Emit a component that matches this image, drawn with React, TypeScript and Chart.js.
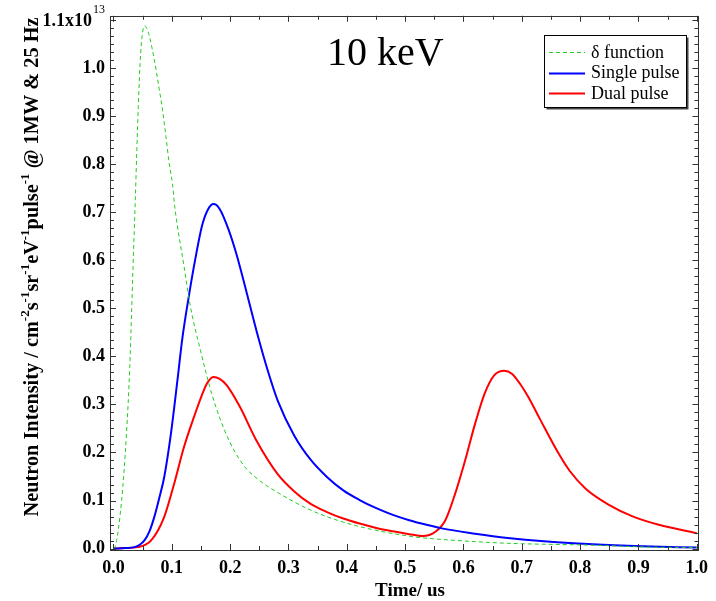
import React, { useEffect, useRef } from "react";
import { Chart, registerables } from "chart.js";

Chart.register(...registerables);

// ---- data (time in us, intensity in units of 1e13) ----
const deltaT = [0, 0.0025, 0.0139, 0.0223, 0.0279, 0.0335, 0.0375, 0.040, 0.0425, 0.0465, 0.050, 0.053, 0.057, 0.0617, 0.070, 0.0786, 0.084, 0.090, 0.0955, 0.101, 0.105, 0.121, 0.132, 0.149, 0.169, 0.194, 0.222, 0.25, 0.281, 0.338, 0.394, 0.45, 0.518, 0.586, 0.676, 0.822, 0.918, 1.0];
const deltaV = [0, 0.003, 0.10, 0.24, 0.378, 0.587, 0.73, 0.83, 0.92, 1.03, 1.075, 1.088, 1.083, 1.066, 1.017, 0.955, 0.913, 0.857, 0.802, 0.760, 0.712, 0.587, 0.503, 0.413, 0.320, 0.236, 0.175, 0.142, 0.117, 0.080, 0.055, 0.038, 0.024, 0.017, 0.011, 0.007, 0.003, 0.002];

const singleT = [0, 0.02, 0.036, 0.045, 0.053, 0.062, 0.070, 0.078, 0.087, 0.098, 0.1096, 0.118, 0.129, 0.1406, 0.152, 0.162, 0.1716, 0.182, 0.197, 0.211, 0.231, 0.2477, 0.2646, 0.2815, 0.31, 0.338, 0.366, 0.394, 0.422, 0.4506, 0.479, 0.507, 0.535, 0.563, 0.62, 0.676, 0.738, 0.822, 0.907, 1.0];
const singleV = [0, 0.001, 0.003, 0.008, 0.017, 0.037, 0.066, 0.103, 0.149, 0.235, 0.350, 0.437, 0.524, 0.605, 0.673, 0.706, 0.717, 0.707, 0.665, 0.612, 0.520, 0.442, 0.370, 0.308, 0.235, 0.185, 0.149, 0.121, 0.101, 0.084, 0.070, 0.059, 0.050, 0.042, 0.031, 0.022, 0.015, 0.009, 0.005, 0.002];

const dualT = [0, 0.02, 0.042, 0.0646, 0.087, 0.104, 0.121, 0.138, 0.155, 0.162, 0.1716, 0.182, 0.194, 0.2167, 0.245, 0.2815, 0.31, 0.338, 0.366, 0.394, 0.422, 0.4506, 0.479, 0.507, 0.53, 0.552, 0.569, 0.586, 0.603, 0.62, 0.6365, 0.653, 0.670, 0.683, 0.697, 0.711, 0.731, 0.765, 0.782, 0.81, 0.851, 0.89, 0.935, 1.0];
const dualV = [0, 0.001, 0.003, 0.017, 0.066, 0.135, 0.212, 0.274, 0.330, 0.347, 0.357, 0.353, 0.340, 0.295, 0.225, 0.155, 0.119, 0.093, 0.076, 0.0625, 0.052, 0.043, 0.036, 0.030, 0.026, 0.035, 0.059, 0.115, 0.184, 0.260, 0.323, 0.361, 0.370, 0.364, 0.343, 0.316, 0.270, 0.194, 0.162, 0.124, 0.090, 0.067, 0.0495, 0.032];

const seriesNames = ["\u03b4 function", "Single pulse", "Dual pulse"];

const xTicks = [0, 0.1, 0.2, 0.3, 0.4, 0.5, 0.6, 0.7, 0.8, 0.9, 1.0];
const yTicks = [0, 0.1, 0.2, 0.3, 0.4, 0.5, 0.6, 0.7, 0.8, 0.9, 1.0, 1.1];

const SERIF = '"Liberation Serif", "Times New Roman", serif';

const toPts = (t: number[], v: number[]) => t.map((x, i) => ({ x, y: v[i] }));

const yTitleParts: [string, boolean][] = [
  ["Neutron Intensity / cm", false],
  ["-2", true],
  ["s", false],
  ["-1", true],
  ["sr", false],
  ["-1", true],
  ["eV", false],
  ["-1", true],
  ["pulse", false],
  ["-1", true],
  [" @ 1MW & 25 Hz", false],
];

const decorPlugin = {
  id: "decor",
  afterDraw(chart: any) {
    const ctx = chart.ctx as CanvasRenderingContext2D;
    const ca = chart.chartArea;
    const xs = chart.scales.x;
    const ys = chart.scales.y;
    ctx.save();

    // frame
    ctx.strokeStyle = "#333";
    ctx.lineWidth = 1;
    ctx.setLineDash([]);
    ctx.strokeRect(Math.round(ca.left) + 0.5, Math.round(ca.top) + 0.5, Math.round(ca.right - ca.left), Math.round(ca.bottom - ca.top));

    // ticks (inward, on all four sides)
    ctx.strokeStyle = "#333";
    ctx.beginPath();
    for (let i = 0; i <= 20; i++) {
      const v = i * 0.05;
      const px = Math.round(xs.getPixelForValue(v)) + 0.5;
      const len = i % 2 === 0 ? 6 : 4;
      ctx.moveTo(px, ca.bottom);
      ctx.lineTo(px, ca.bottom - len);
      ctx.moveTo(px, ca.top);
      ctx.lineTo(px, ca.top + len);
    }
    for (let i = 0; i <= 66; i++) {
      const v = i / 60;
      const py = Math.round(ys.getPixelForValue(v)) + 0.5;
      if (py < ca.top) continue;
      const len = i % 6 === 0 ? 6 : 4;
      ctx.moveTo(ca.left, py);
      ctx.lineTo(ca.left + len, py);
      ctx.moveTo(ca.right, py);
      ctx.lineTo(ca.right - len, py);
    }
    ctx.stroke();

    // top y label 1.1x10^13
    const y11 = ys.getPixelForValue(1.1);
    ctx.fillStyle = "#000";
    ctx.font = `bold 18px ${SERIF}`;
    ctx.textAlign = "right";
    ctx.textBaseline = "middle";
    ctx.fillText("1.1x10", 92, y11 + 1);
    ctx.font = `12px ${SERIF}`;
    ctx.textAlign = "left";
    ctx.textBaseline = "alphabetic";
    ctx.fillText("13", 93, y11 - 7);

    // big annotation
    ctx.font = `40px ${SERIF}`;
    ctx.textAlign = "left";
    ctx.textBaseline = "alphabetic";
    ctx.fillText("10 keV", 327, 65);

    // x axis title
    ctx.font = `bold 19px ${SERIF}`;
    ctx.textAlign = "center";
    ctx.textBaseline = "middle";
    ctx.fillText("Time/ us", 410, 591);

    // y axis title (rotated, with superscripts), fitted to the span of the reference
    const target = 500;
    let fs = 20;
    const measure = (size: number) => {
      let w = 0;
      for (const [t, sup] of yTitleParts) {
        ctx.font = sup ? `bold ${Math.round(size * 0.65)}px ${SERIF}` : `bold ${size}px ${SERIF}`;
        w += ctx.measureText(t).width;
      }
      return w;
    };
    fs = Math.max(14, Math.min(24, fs * target / measure(fs)));
    const total = measure(fs);
    const baseFont = `bold ${fs}px ${SERIF}`;
    const supFont = `bold ${Math.round(fs * 0.65)}px ${SERIF}`;
    ctx.save();
    ctx.translate(38, 267);
    ctx.rotate(-Math.PI / 2);
    ctx.textAlign = "left";
    ctx.textBaseline = "alphabetic";
    let cx = -total / 2;
    for (const [t, sup] of yTitleParts) {
      ctx.font = sup ? supFont : baseFont;
      ctx.fillText(t, cx, sup ? -fs * 0.45 : 0);
      cx += ctx.measureText(t).width;
    }
    ctx.restore();

    // legend box
    const bx = 544.5, by = 35.5, bw = 142, bh = 72;
    ctx.fillStyle = "#444";
    ctx.fillRect(bx + 2, by + 2, bw, bh);
    ctx.fillStyle = "#fff";
    ctx.fillRect(bx, by, bw, bh);
    ctx.strokeStyle = "#000";
    ctx.lineWidth = 1;
    ctx.strokeRect(bx, by, bw, bh);
    const rows = [52, 72.5, 93];
    chart.data.datasets.forEach((ds: any, i: number) => {
      const ry = Math.round(rows[i]) + 0.5;
      ctx.strokeStyle = ds.borderColor;
      ctx.lineWidth = ds.borderWidth;
      ctx.setLineDash(ds.borderDash || []);
      ctx.beginPath();
      ctx.moveTo(549, ry);
      ctx.lineTo(585, ry);
      ctx.stroke();
      ctx.setLineDash([]);
      ctx.fillStyle = "#000";
      ctx.font = `18px ${SERIF}`;
      ctx.textAlign = "left";
      ctx.textBaseline = "middle";
      ctx.fillText(ds.label, 591, rows[i] + 1);
    });

    ctx.restore();
  },
};

export default function App() {
  const ref = useRef<HTMLCanvasElement | null>(null);
  useEffect(() => {
    if (!ref.current) return;
    const tickFont = { family: SERIF, size: 18, weight: "bold" as const };
    const chart = new Chart(ref.current, {
      type: "line",
      data: {
        datasets: [
          {
            label: seriesNames[0],
            data: toPts(deltaT, deltaV),
            borderColor: "#22cc22",
            borderWidth: 1,
            borderDash: [4, 3],
            pointRadius: 0,
            cubicInterpolationMode: "monotone",
          },
          {
            label: seriesNames[1],
            data: toPts(singleT, singleV),
            borderColor: "#0000ff",
            borderWidth: 2,
            pointRadius: 0,
            cubicInterpolationMode: "monotone",
          },
          {
            label: seriesNames[2],
            data: toPts(dualT, dualV),
            borderColor: "#ff0000",
            borderWidth: 2,
            pointRadius: 0,
            cubicInterpolationMode: "monotone",
          },
        ],
      },
      options: {
        animation: false,
        responsive: false,
        devicePixelRatio: 1,
        layout: { padding: { top: 15, right: 9, left: 0, bottom: 0 } },
        plugins: { legend: { display: false }, tooltip: { enabled: false }, title: { display: false } },
        scales: {
          x: {
            type: "linear",
            min: -0.006,
            max: 1.003,
            afterBuildTicks: (s: any) => {
              s.ticks = xTicks.map((v) => ({ value: v }));
            },
            afterFit: (s: any) => {
              s.height = 51;
            },
            grid: { display: false, drawTicks: false },
            border: { display: false },
            ticks: {
              font: tickFont,
              color: "#000",
              padding: 8,
              maxRotation: 0,
              autoSkip: false,
              callback: (v: any) => Number(v).toFixed(1),
            },
          },
          y: {
            type: "linear",
            min: -0.003,
            max: 1.109,
            afterBuildTicks: (s: any) => {
              s.ticks = yTicks.map((v) => ({ value: v }));
            },
            afterFit: (s: any) => {
              s.width = 110;
            },
            grid: { display: false, drawTicks: false },
            border: { display: false },
            ticks: {
              font: tickFont,
              color: "#000",
              padding: 5,
              autoSkip: false,
              callback: (v: any) => (Math.abs(Number(v) - 1.1) < 1e-6 ? "" : Number(v).toFixed(1)),
            },
          },
        },
      },
      plugins: [decorPlugin],
    } as any);
    return () => chart.destroy();
  }, []);
  return (
    <div style={{ position: "fixed", left: 0, top: 0, width: 716, height: 601, background: "#fff" }}>
      <canvas ref={ref} width={716} height={601} style={{ display: "block" }} />
    </div>
  );
}
